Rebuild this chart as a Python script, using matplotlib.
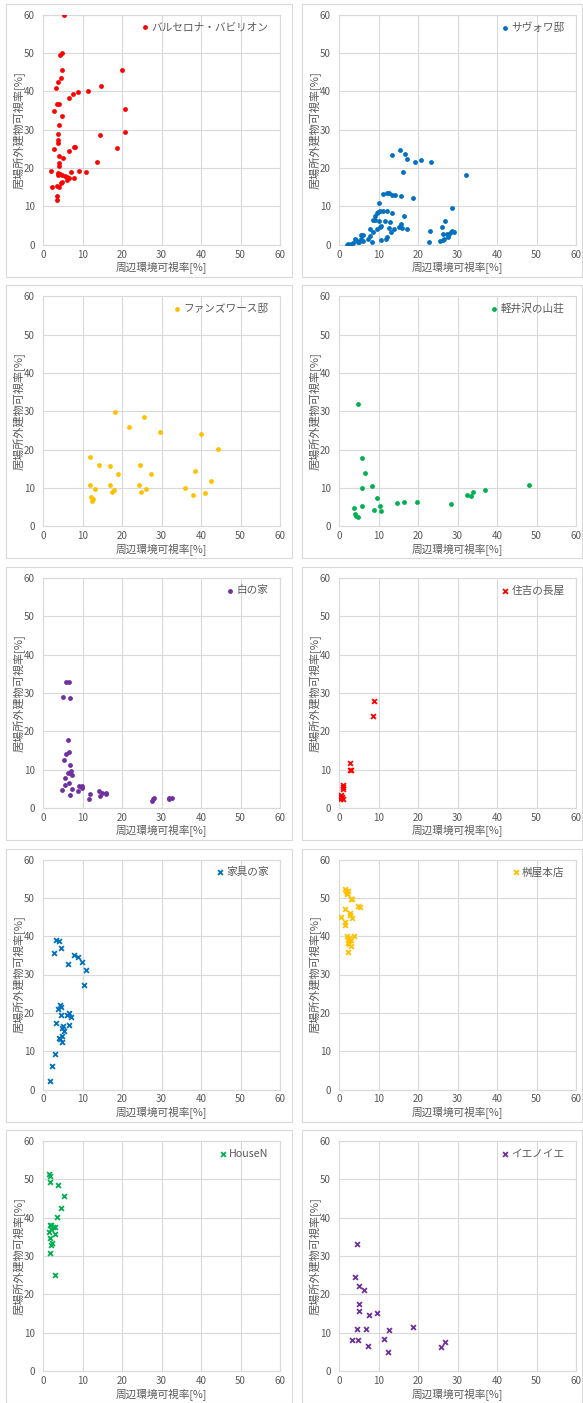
import matplotlib
matplotlib.use("Agg")
import matplotlib.pyplot as plt
from matplotlib.patches import Rectangle

plt.rcParams['font.family'] = ['Noto Sans CJK JP', 'DejaVu Sans']

# 各建物の 周辺環境可視率 (x) と 居場所外建物可視率 (y) [%]
barcelona_x = [5.2, 4.9, 4.4, 4.8, 4.6, 3.9, 3.3, 6.6, 7.6, 8.8, 11.3, 14.7, 20.1,
               3.6, 4.0, 2.7, 4.9, 20.7, 4.1, 3.9, 14.4, 20.7, 3.7, 3.9, 2.9, 6.7,
               7.8, 8.2, 18.8, 4.0, 5.1, 4.1, 13.6, 4.1, 2.0, 3.8, 3.7, 4.4, 4.9,
               5.6, 6.2, 6.5, 7.1, 9.2, 10.8, 7.8, 6.1, 4.9, 4.5, 2.2, 4.1, 3.6,
               3.6, 3.5]
barcelona_y = [59.8, 50.1, 49.6, 45.6, 43.5, 42.4, 40.9, 38.2, 39.3, 39.8, 40.1, 41.3, 45.6,
               36.8, 36.6, 34.8, 33.7, 35.3, 31.3, 28.9, 28.7, 29.4, 27.3, 26.6, 24.9, 24.4,
               25.4, 25.5, 25.3, 23.1, 22.6, 21.4, 21.7, 20.4, 19.3, 18.6, 18.1, 18.5, 18.1,
               17.9, 17.7, 17.4, 18.9, 19.2, 19.0, 17.4, 17.0, 16.4, 16.2, 15.1, 15.1, 15.2,
               12.7, 11.6]

savoye_x = [13.5, 15.4, 16.8, 17.2, 16.2, 19.3, 20.8, 23.3, 32.2, 11.1, 12.2, 12.7,
            13.3, 14.3, 15.8, 18.7, 10.1, 28.6, 10.5, 11.1, 12.1, 9.9, 9.5, 13.3,
            16.5, 9.0, 8.7, 9.2, 10.1, 11.6, 26.9, 13.0, 15.8, 6.2, 5.6, 7.8, 9.5,
            10.6, 10.4, 12.7, 14.0, 15.3, 15.9, 17.2, 26.0, 23.1, 13.2, 8.7, 7.9,
            7.3, 8.4, 10.6, 11.8, 12.2, 22.8, 25.6, 26.3, 26.7, 26.3, 27.3, 27.5,
            27.8, 28.5, 29.0, 28.3, 1.9, 2.4, 3.0, 3.5, 4.0, 4.4, 4.7, 5.1, 5.5, 6.2]
savoye_y = [23.3, 24.6, 23.7, 22.3, 19.0, 21.6, 22.0, 21.6, 18.3, 13.2, 13.6, 13.5,
            12.9, 12.9, 12.7, 12.1, 10.9, 9.5, 8.9, 8.8, 8.8, 8.5, 8.2, 8.3,
            7.6, 7.6, 6.5, 6.5, 6.3, 6.3, 6.3, 5.8, 5.3, 2.5, 2.5, 4.1, 4.2,
            4.9, 4.6, 4.3, 4.1, 4.5, 4.3, 4.1, 4.6, 3.5, 3.2, 3.3, 2.3,
            1.5, 0.8, 1.1, 1.5, 1.9, 0.8, 1.0, 1.3, 1.5, 2.7, 2.7, 2.0,
            2.9, 3.6, 3.3, 3.2, 0.0, 0.2, 0.3, 0.5, 1.6, 1.1, 0.8, 0.7, 1.5, 1.0]

farnsworth_x = [18.2, 25.5, 21.8, 29.5, 39.9, 44.2, 12.0, 14.2, 17.0, 24.5, 19.1, 27.4,
                38.4, 42.6, 12.0, 17.0, 24.3, 36.0, 13.1, 17.9, 17.4, 24.7, 26.0, 41.0,
                38.1, 12.2, 12.7, 12.4]
farnsworth_y = [29.7, 28.6, 25.9, 24.7, 24.2, 20.2, 18.1, 16.1, 15.8, 16.1, 13.6, 13.6,
                14.4, 11.8, 10.7, 10.7, 10.9, 10.1, 9.6, 9.5, 9.0, 9.0, 9.6, 8.7,
                8.2, 7.6, 7.2, 6.7]

karuizawa_x = [4.8, 5.7, 6.5, 5.8, 8.4, 9.6, 48.0, 37.0, 33.9, 32.4, 33.3, 28.3,
               14.6, 16.5, 19.7, 5.8, 3.8, 10.5, 8.9, 10.6, 4.1, 4.4, 4.7]
karuizawa_y = [31.8, 17.8, 14.0, 10.0, 10.5, 7.3, 10.8, 9.5, 8.9, 8.2, 7.8, 5.8,
               6.2, 6.3, 6.3, 5.2, 4.7, 5.4, 4.3, 4.1, 3.2, 2.8, 2.4]

shiro_x = [5.8, 6.5, 5.0, 6.9, 6.4, 6.7, 5.9, 5.2, 6.8, 6.4, 6.9, 7.2, 7.4, 5.6,
           6.7, 5.6, 7.4, 4.7, 6.8, 9.1, 9.9, 9.8, 8.8, 12.0, 11.6, 14.3, 14.9,
           14.5, 16.0, 16.0, 27.9, 28.1, 27.7, 31.8, 32.6, 31.9]
shiro_y = [32.9, 32.9, 28.9, 28.7, 17.7, 14.5, 14.0, 12.5, 11.1, 9.2, 9.1, 9.5, 8.6, 7.8,
           6.5, 6.0, 5.0, 4.7, 3.4, 5.8, 5.8, 5.3, 4.5, 3.5, 2.4, 4.5, 3.8,
           3.2, 3.8, 3.5, 2.4, 2.5, 1.9, 2.7, 2.6, 2.3]

sumiyoshi_x = [8.9, 8.5, 2.8, 3.0, 2.9, 1.0, 1.0, 0.9, 0.6, 0.3, 0.6, 0.3, 1.1, 0.7]
sumiyoshi_y = [28.0, 23.9, 11.6, 9.9, 9.8, 5.9, 5.4, 4.9, 3.3, 3.0, 2.5, 2.3, 2.3, 2.8]

kagu_x = [3.4, 4.1, 4.6, 2.7, 7.9, 8.9, 9.9, 6.4, 10.9, 10.4, 4.2, 4.5, 3.9, 6.6,
          6.0, 4.6, 7.1, 3.3, 6.7, 5.1, 4.7, 5.3, 4.8, 4.1, 4.4, 4.9, 3.0, 2.3, 1.7]
kagu_y = [39.0, 38.7, 36.8, 35.7, 35.2, 34.6, 33.2, 32.7, 31.1, 27.3, 22.1, 21.6, 21.1, 19.9,
          19.4, 19.4, 18.8, 17.4, 16.8, 16.5, 16.1, 15.3, 13.9, 13.5, 13.2, 12.5, 9.2, 6.2, 2.3]

masuya_x = [1.5, 1.7, 2.1, 2.4, 2.0, 3.0, 3.3, 4.9, 5.2, 1.5, 2.9, 2.9, 0.5, 3.3,
            1.4, 1.5, 1.9, 3.8, 2.5, 2.3, 3.0, 2.3, 2.6, 3.0, 2.4]
masuya_y = [52.3, 51.7, 51.3, 51.8, 51.1, 49.7, 49.6, 47.8, 47.7, 47.0, 46.1, 45.4, 45.0, 44.7,
            43.6, 42.9, 40.1, 40.1, 39.6, 39.1, 39.0, 38.3, 38.0, 37.5, 35.8]

housen_x = [1.6, 1.8, 1.8, 3.9, 5.4, 4.5, 3.5, 1.7, 2.1, 2.5, 3.1, 2.1, 1.4, 3.0,
            1.8, 2.2, 2.0, 1.7, 3.1]
housen_y = [51.3, 51.0, 49.4, 48.5, 45.7, 42.6, 40.2, 38.1, 38.1, 37.5, 37.6, 37.1, 36.3, 35.7,
            34.6, 33.5, 33.0, 30.8, 25.2]

ienoie_x = [4.6, 4.1, 5.0, 6.4, 5.0, 5.0, 7.7, 9.5, 4.5, 6.8, 12.6, 18.8, 11.4, 4.7,
            3.3, 26.9, 25.7, 7.4, 12.3]
ienoie_y = [33.2, 24.5, 22.2, 21.2, 17.4, 15.8, 14.7, 15.1, 11.1, 11.1, 10.8, 11.4, 8.4, 8.2,
            8.0, 7.6, 6.2, 6.5, 4.9]

names = ['バルセロナ・バビリオン', 'サヴォワ邸', 'ファンズワース邸', '軽井沢の山荘', '白の家',
         '住吉の長屋', '家具の家', '桝屋本店', 'HouseN', 'イエノイエ']
xs = [barcelona_x, savoye_x, farnsworth_x, karuizawa_x, shiro_x,
      sumiyoshi_x, kagu_x, masuya_x, housen_x, ienoie_x]
ys = [barcelona_y, savoye_y, farnsworth_y, karuizawa_y, shiro_y,
      sumiyoshi_y, kagu_y, masuya_y, housen_y, ienoie_y]
colors = ['#FF0000', '#0070C0', '#FFC000', '#00B050', '#7030A0',
          '#FF0000', '#0070C0', '#FFC000', '#00B050', '#7030A0']
markers = ['o'] * 5 + ['x'] * 5

W, H = 583, 1403
fig = plt.figure(figsize=(W / 100, H / 100), dpi=100)
gray = '#595959'
grid = '#D9D9D9'

for i in range(10):
    row, col = divmod(i, 2)
    left = 43 if col == 0 else 339
    top = 14.7 + 281.6 * row
    # チャートの外枠
    bx = 6 if col == 0 else 302
    bw = 286 if col == 0 else 280
    fig.patches.append(Rectangle((bx / W, 1 - (top + 262) / H), bw / W, 273 / H,
                                 transform=fig.transFigure, fill=False,
                                 edgecolor=grid, lw=0.8))
    ax = fig.add_axes([left / W, 1 - (top + 230) / H, 237 / W, 230 / H])
    if markers[i] == 'o':
        ax.scatter(xs[i], ys[i], s=12, color=colors[i], marker='o', lw=0,
                   label=names[i], zorder=3)
    else:
        ax.scatter(xs[i], ys[i], s=12, color=colors[i], marker='x', lw=1.3,
                   label=names[i], zorder=3)
    ax.set_xlim(0, 60)
    ax.set_ylim(0, 60)
    ax.set_xticks(range(0, 61, 10))
    ax.set_yticks(range(0, 61, 10))
    ax.grid(True, color=grid, lw=0.8)
    ax.set_axisbelow(True)
    for s in ax.spines.values():
        s.set_color(grid)
        s.set_linewidth(0.8)
    ax.tick_params(length=0, labelsize=7, labelcolor=gray)
    ax.tick_params(axis='x', pad=3.5)
    ax.tick_params(axis='y', pad=6)
    ax.set_xlabel('周辺環境可視率[%]', fontsize=7.7, color=gray)
    ax.set_ylabel('居場所外建物可視率[%]', fontsize=8, color=gray)
    ax.xaxis.set_label_coords(0.5, -0.072)
    ax.yaxis.set_label_coords(-0.075, 0.5)
    ax.legend(loc='upper right', bbox_to_anchor=(1 - 4 / 237, 1), frameon=False,
              fontsize=7.7, labelcolor=gray, handletextpad=0.1, borderaxespad=0.5,
              borderpad=0.2, handlelength=1.0)

fig.savefig('out.png', dpi=100)
